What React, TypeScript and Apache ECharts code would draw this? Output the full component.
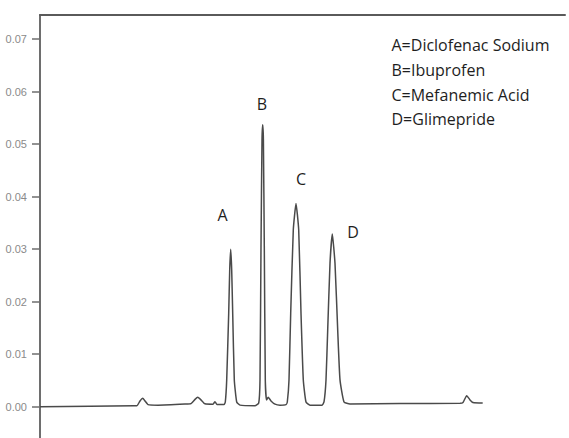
import React, { useEffect, useRef } from "react";
import * as echarts from "echarts";

// Retention time (min) and absorbance (AU)
const times: number[] = [
  0, 1.0, 1.88, 1.94, 2.0, 2.054, 2.1, 2.16, 2.36, 2.9,
  3.02, 3.1, 3.154, 3.21, 3.3, 3.46, 3.5, 3.54, 3.68,
  3.706, 3.734, 3.774, 3.794, 3.814, 3.834, 3.854, 3.886, 3.934, 4.0, 4.3,
  4.374, 4.4, 4.42, 4.44, 4.454, 4.468, 4.486, 4.506, 4.53, 4.566, 4.62, 4.7, 4.8, 4.92,
  4.946, 4.98, 5.014, 5.066, 5.12, 5.174, 5.22, 5.266, 5.32, 5.4, 5.64,
  5.68, 5.72, 5.754, 5.8, 5.846, 5.9, 5.954, 6.0, 6.08, 6.2, 7.2, 8.4,
  8.46, 8.534, 8.6, 8.66, 8.854,
];
const absorbance: number[] = [
  0.0, 0.0001, 0.0002, 0.0002, 0.0011, 0.0016, 0.0011, 0.0004, 0.0003, 0.0005,
  0.0006, 0.0014, 0.0018, 0.0014, 0.00055, 0.00048, 0.00095, 0.0004, 0.0004,
  0.0009, 0.0051, 0.0178, 0.026, 0.03, 0.026, 0.0178, 0.0051, 0.0009, 0.0003, 0.0002,
  0.0007, 0.0051, 0.0305, 0.0508, 0.0537, 0.0508, 0.0305, 0.0051, 0.0013, 0.0018, 0.0011, 0.0005, 0.0003, 0.0004,
  0.0009, 0.0051, 0.0178, 0.0337, 0.0387, 0.0337, 0.0178, 0.0051, 0.0009, 0.0003, 0.0003,
  0.0009, 0.0051, 0.0146, 0.0273, 0.0329, 0.0273, 0.0146, 0.0051, 0.0009, 0.0005, 0.0006, 0.00065,
  0.0008, 0.0021, 0.0013, 0.0008, 0.0007,
];
const yTicks: number[] = [0, 0.01, 0.02, 0.03, 0.04, 0.05, 0.06, 0.07];
const peakLetters: string[] = ["A", "B", "C", "D"];
const legendLines: string[] = [
  "A=Diclofenac Sodium",
  "B=Ibuprofen",
  "C=Mefanemic Acid",
  "D=Glimepride",
];

export default function App() {
  const ref = useRef<HTMLDivElement>(null);
  useEffect(() => {
    if (!ref.current) return;
    const chart = echarts.init(ref.current, undefined, { renderer: "svg" });
    const data = times.map((t, i) => [t, absorbance[i]]);
    const letterPos = [
      [222.5, 214.5],
      [262, 104],
      [301, 179],
      [353, 232],
    ];
    const textFont = "'Open Sans', sans-serif";
    chart.setOption({
      animation: false,
      backgroundColor: "#ffffff",
      grid: {
        left: 40,
        right: 4,
        top: 15,
        bottom: 0,
        containLabel: false,
        outerBoundsMode: "none",
      },
      xAxis: {
        type: "value",
        position: "top",
        min: 0,
        max: 10.5,
        axisLine: { show: true, onZero: false, lineStyle: { color: "#5a5a5a", width: 2 } },
        axisTick: { show: false },
        axisLabel: { show: false },
        splitLine: { show: false },
      },
      yAxis: {
        type: "value",
        min: -0.00596,
        max: 0.07461,
        axisLine: { show: true, onZero: false, lineStyle: { color: "#6e6e6e", width: 2 } },
        axisTick: {
          show: true,
          length: 8,
          customValues: yTicks,
          lineStyle: { color: "#6e6e6e", width: 1.5 },
        },
        axisLabel: {
          show: true,
          customValues: yTicks,
          margin: 13,
          fontSize: 11,
          color: "#8a8a8a",
          fontFamily: "'Liberation Sans', Arial, sans-serif",
          formatter: (v: number) => v.toFixed(2),
        },
        splitLine: { show: false },
      },
      series: [
        {
          type: "line",
          data,
          symbol: "none",
          smooth: 0.15,
          lineStyle: { color: "#4a4a4a", width: 1.5 },
          itemStyle: { color: "#4a4a4a" },
        },
      ],
      graphic: [
        ...peakLetters.map((l, i) => ({
          type: "text",
          x: letterPos[i][0],
          y: letterPos[i][1],
          style: {
            text: l,
            fontSize: 16,
            fontFamily: textFont,
            fill: "#1e1e1e",
            align: "center",
            verticalAlign: "middle",
          },
        })),
        ...legendLines.map((s, i) => ({
          type: "text",
          x: 391.5,
          y: [45, 70, 95, 119][i],
          style: {
            text: s,
            fontSize: 16,
            fontFamily: textFont,
            fill: "#1e1e1e",
            align: "left",
            verticalAlign: "middle",
          },
        })),
      ],
    });
    return () => chart.dispose();
  }, []);
  return (
    <div
      style={{
        position: "fixed",
        left: 0,
        top: 0,
        width: 569,
        height: 438,
        overflow: "hidden",
        background: "#fff",
      }}
    >
      <div ref={ref} style={{ width: 569, height: 438 }} />
    </div>
  );
}
